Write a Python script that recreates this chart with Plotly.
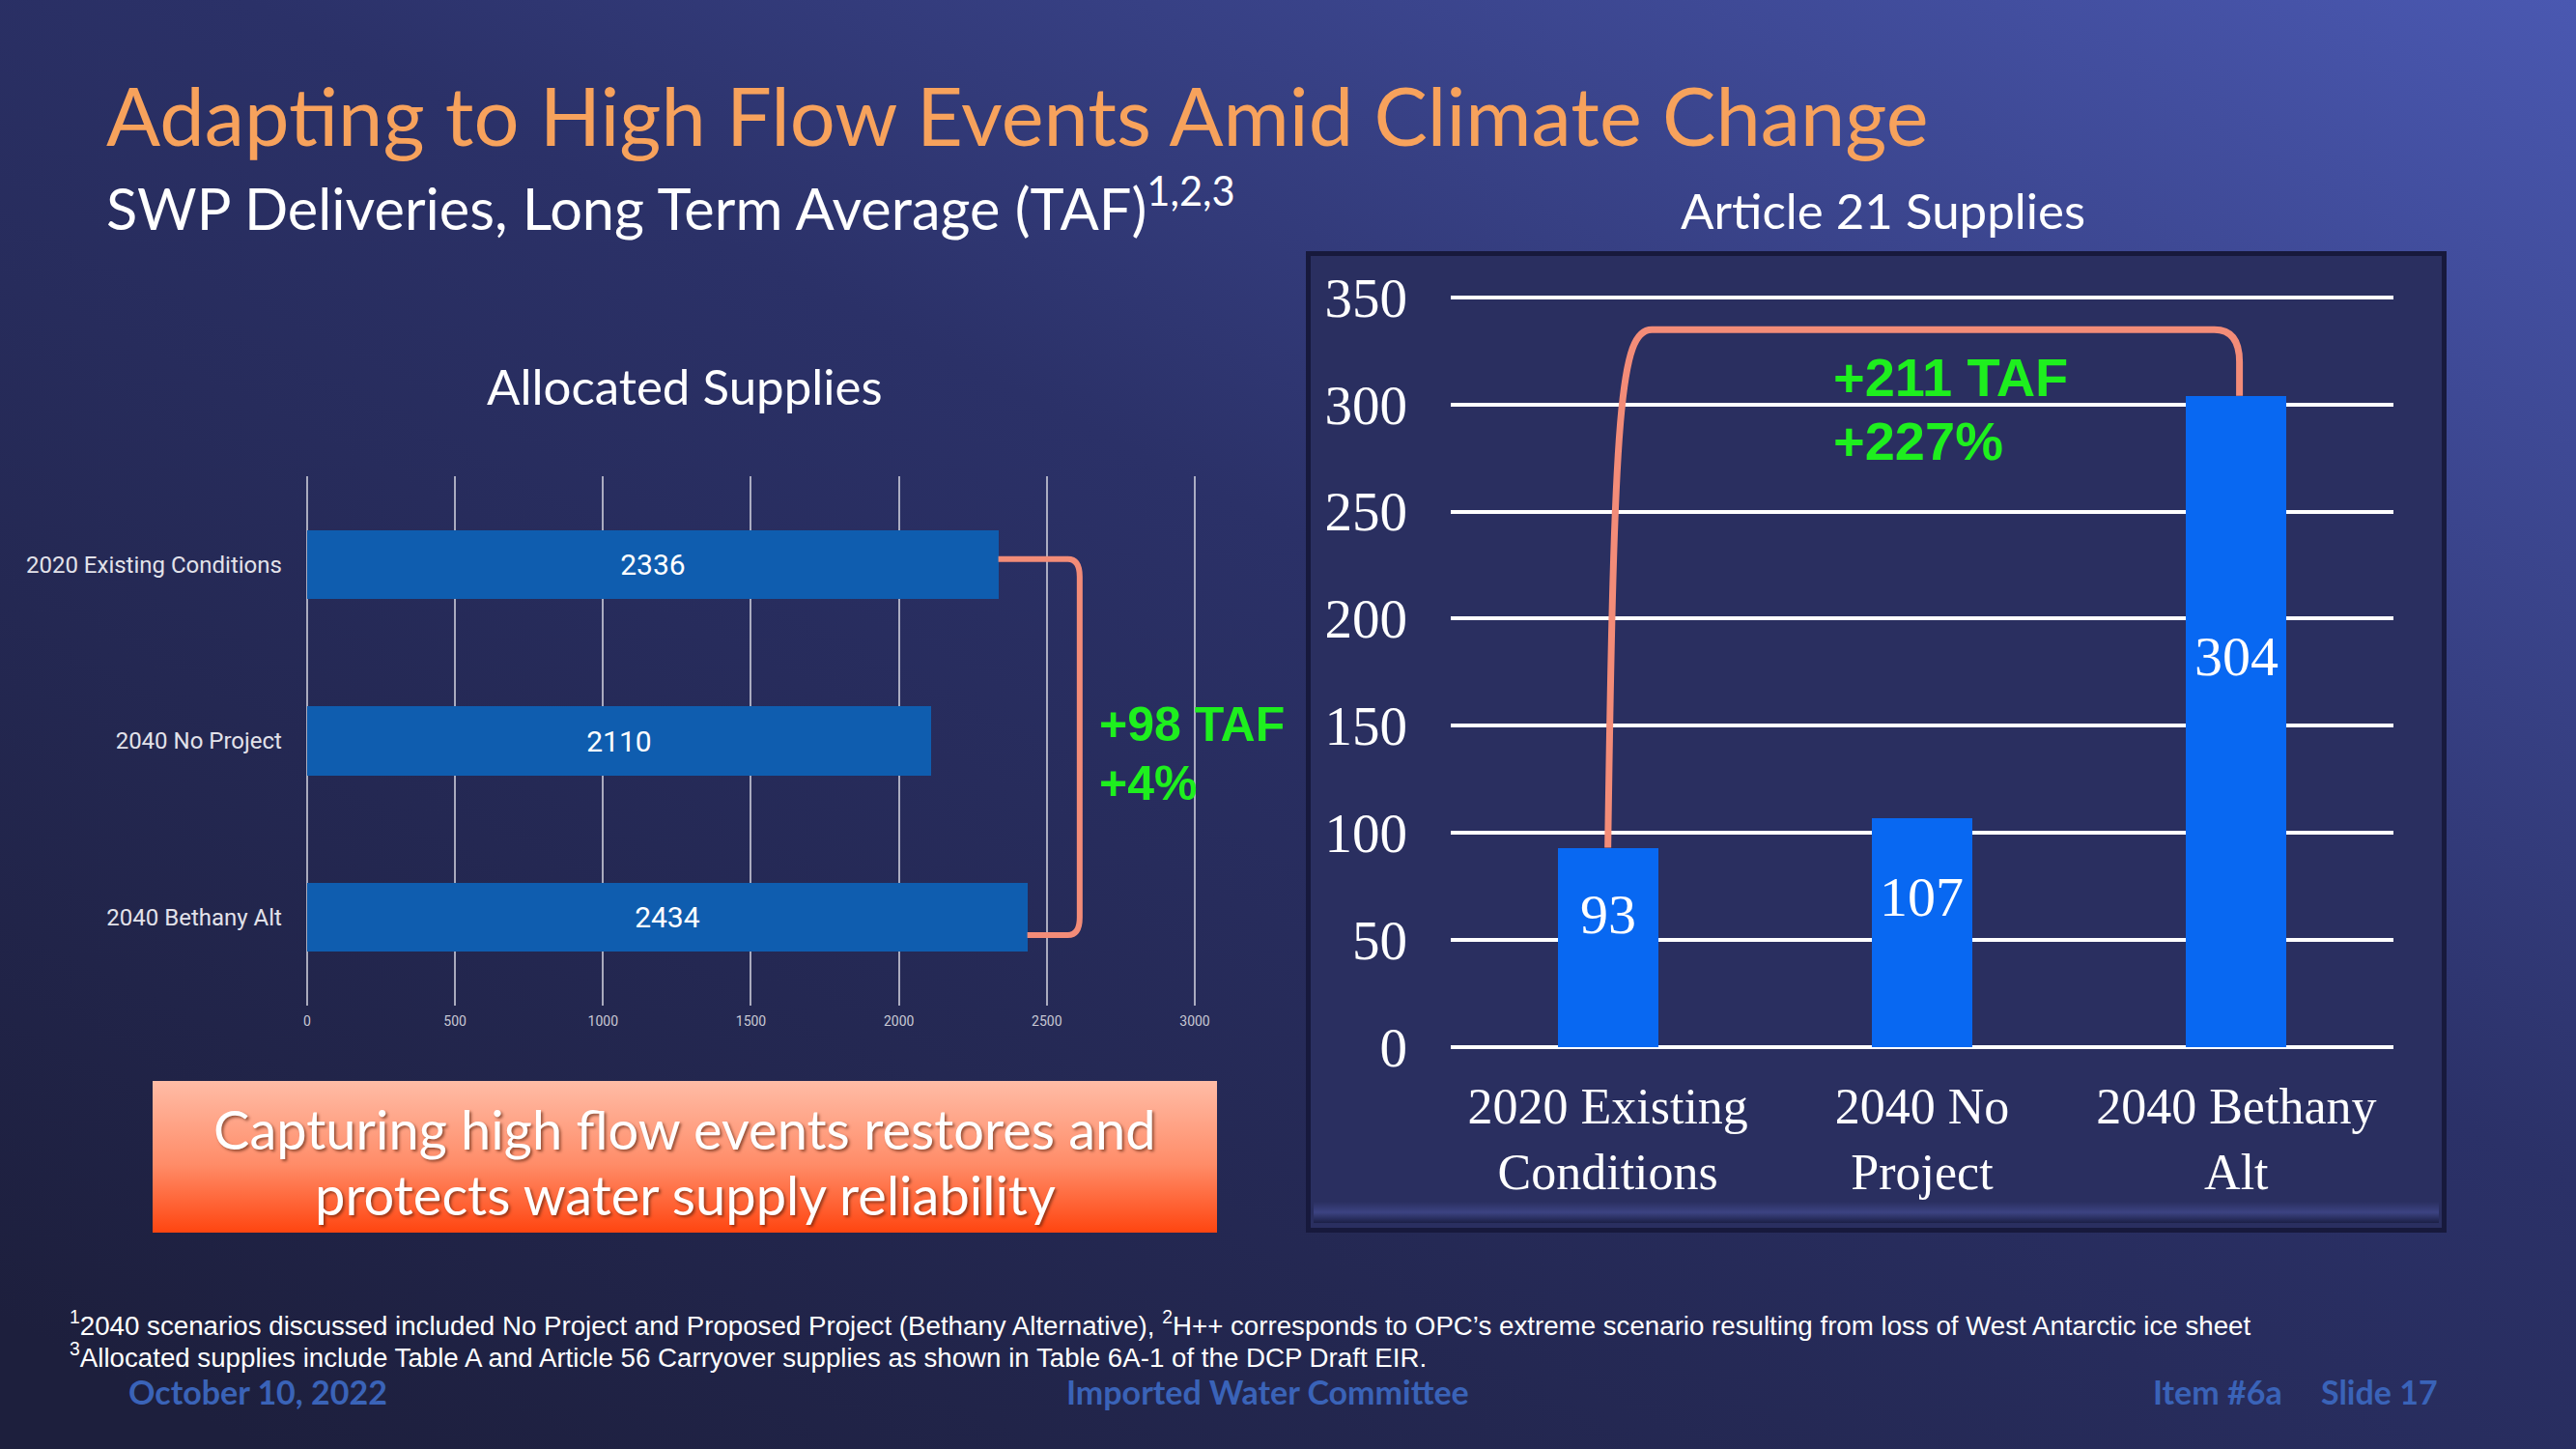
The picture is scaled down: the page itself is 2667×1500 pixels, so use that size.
import plotly.graph_objects as go
from urllib.parse import quote

# ---------------- data ----------------
alloc_categories = ["2020 Existing Conditions", "2040 No Project", "2040 Bethany Alt"]
alloc_values = [2336, 2110, 2434]
alloc_ticks = [0, 500, 1000, 1500, 2000, 2500, 3000]

a21_categories = ["2020 Existing<br>Conditions", "2040 No<br>Project", "2040 Bethany<br>Alt"]
a21_values = [93, 107, 304]
a21_ticks = [0, 50, 100, 150, 200, 250, 300, 350]

alloc_delta = ["+98 TAF", "+4%"]
a21_delta = ["+211 TAF", "+227%"]

W, H = 2667, 1500


def px(x):
    return x / W


def py(y):
    return 1 - y / H


def svg_uri(svg):
    return "data:image/svg+xml;charset=utf-8," + quote(svg)


bg_svg = (
    f"<svg xmlns='http://www.w3.org/2000/svg' width='{W}' height='{H}' viewBox='0 0 {W} {H}' preserveAspectRatio='none'>"
    "<defs><linearGradient id='g' x1='1' y1='0' x2='0.1' y2='1'>"
    "<stop offset='0' stop-color='#4A58B1'/>"
    "<stop offset='0.45' stop-color='#2B3168'/>"
    "<stop offset='1' stop-color='#1D1F3D'/>"
    "</linearGradient></defs>"
    f"<rect width='{W}' height='{H}' fill='url(#g)'/></svg>"
)

pw, ph = 1181, 1016
panel_svg = (
    f"<svg xmlns='http://www.w3.org/2000/svg' width='{pw}' height='{ph}' viewBox='0 0 {pw} {ph}' preserveAspectRatio='none'>"
    "<defs><linearGradient id='b' x1='0' y1='0' x2='0' y2='1'>"
    "<stop offset='0' stop-color='#2A2F60'/><stop offset='0.5' stop-color='#3C4382'/><stop offset='1' stop-color='#1C2046'/>"
    "</linearGradient></defs>"
    f"<rect x='0' y='0' width='{pw}' height='{ph}' fill='#17193C'/>"
    f"<rect x='5' y='5' width='{pw-10}' height='{ph-10}' fill='#2A2F60'/>"
    f"<rect x='8' y='{ph-32}' width='{pw-16}' height='22' fill='url(#b)'/>"
    "</svg>"
)

bw, bh = 1102, 157
box_svg = (
    f"<svg xmlns='http://www.w3.org/2000/svg' width='{bw}' height='{bh}' viewBox='0 0 {bw} {bh}' preserveAspectRatio='none'>"
    "<defs><linearGradient id='o' x1='0' y1='0' x2='0' y2='1'>"
    "<stop offset='0' stop-color='#FFBCA6'/><stop offset='0.55' stop-color='#FF8C68'/><stop offset='1' stop-color='#FF4510'/>"
    "</linearGradient></defs>"
    f"<rect width='{bw}' height='{bh}' fill='url(#o)'/></svg>"
)

fig = go.Figure()

# left chart: allocated supplies
fig.add_trace(go.Bar(
    x=alloc_values, y=list(range(len(alloc_categories))), orientation="h",
    marker=dict(color="#0F5DAF", line=dict(width=0)), width=0.39,
    text=[str(v) for v in alloc_values], textposition="inside", insidetextanchor="middle",
    textfont=dict(family="Roboto", size=30, color="white"),
    xaxis="x", yaxis="y", hoverinfo="skip", showlegend=False,
))

# right chart: article 21 supplies
fig.add_trace(go.Bar(
    x=list(range(len(a21_categories))), y=a21_values,
    marker=dict(color="#0868F2", line=dict(width=0)), width=0.32,
    xaxis="x2", yaxis="y2", hoverinfo="skip", showlegend=False,
))

serif = "Liberation Serif, DejaVu Serif, serif"
sans = "Lato, Roboto, sans-serif"

annotations = []
# value labels inside the article 21 bars
for i, v in enumerate(a21_values):
    annotations.append(dict(x=i, y=v * 0.57 + 9, xref="x2", yref="y2", text=str(v), showarrow=False,
                            font=dict(family=serif, size=58, color="white")))

# titles
annotations += [
    dict(x=px(108), y=py(119), xref="paper", yref="paper", xanchor="left", yanchor="middle", showarrow=False,
         text="Adapting to High Flow Events Amid Climate Change",
         font=dict(family=sans, size=83, color="#F7A25C")),
    dict(x=px(108), y=py(212), xref="paper", yref="paper", xanchor="left", yanchor="middle", showarrow=False,
         text="SWP Deliveries, Long Term Average (TAF)<sup>1,2,3</sup>",
         font=dict(family=sans, size=59.5, color="white")),
    dict(x=px(709), y=py(400), xref="paper", yref="paper", xanchor="center", yanchor="middle", showarrow=False,
         text="Allocated Supplies", font=dict(family=sans, size=51, color="white")),
    dict(x=px(1949), y=py(218), xref="paper", yref="paper", xanchor="center", yanchor="middle", showarrow=False,
         text="Article 21 Supplies", font=dict(family=sans, size=51, color="white")),
]

green = "#1EEF1E"
annotations += [
    dict(x=px(1136), y=py(750), xref="paper", yref="paper", xanchor="left", yanchor="middle", showarrow=False,
         text=f"<b>{alloc_delta[0]}</b>", font=dict(family="Liberation Sans, Arial", size=50, color=green)),
    dict(x=px(1136), y=py(811), xref="paper", yref="paper", xanchor="left", yanchor="middle", showarrow=False,
         text=f"<b>{alloc_delta[1]}</b>", font=dict(family="Liberation Sans, Arial", size=50, color=green)),
    dict(x=px(1896), y=py(391), xref="paper", yref="paper", xanchor="left", yanchor="middle", showarrow=False,
         text=f"<b>{a21_delta[0]}</b>", font=dict(family="Liberation Sans, Arial", size=56, color=green)),
    dict(x=px(1896), y=py(456), xref="paper", yref="paper", xanchor="left", yanchor="middle", showarrow=False,
         text=f"<b>{a21_delta[1]}</b>", font=dict(family="Liberation Sans, Arial", size=56, color=green)),
]

# call-out box text
annotations += [
    dict(x=px(709), y=py(1168), xref="paper", yref="paper", xanchor="center", yanchor="middle", showarrow=False,
         text="Capturing high flow events restores and",
         font=dict(family=sans, size=56, color="white", shadow="2px 2px 3px rgba(80,30,10,0.6)")),
    dict(x=px(709), y=py(1236), xref="paper", yref="paper", xanchor="center", yanchor="middle", showarrow=False,
         text="protects water supply reliability",
         font=dict(family=sans, size=56, color="white", shadow="2px 2px 3px rgba(80,30,10,0.6)")),
]

# footnotes
annotations += [
    dict(x=px(70), y=py(1370), xref="paper", yref="paper", xanchor="left", yanchor="middle", showarrow=False,
         text="<sup>1</sup>2040 scenarios discussed included No Project and Proposed Project (Bethany Alternative), "
              "<sup>2</sup>H++ corresponds to OPC\u2019s extreme scenario resulting from loss of West Antarctic ice sheet",
         font=dict(family="Liberation Sans, Arial", size=27.7, color="white")),
    dict(x=px(70), y=py(1403), xref="paper", yref="paper", xanchor="left", yanchor="middle", showarrow=False,
         text="<sup>3</sup>Allocated supplies include Table A and Article 56 Carryover supplies as shown in Table 6A-1 of the DCP Draft EIR.",
         font=dict(family="Liberation Sans, Arial", size=27.7, color="white")),
]

footer_color = "#3A63B8"
annotations += [
    dict(x=px(131), y=py(1440), xref="paper", yref="paper", xanchor="left", yanchor="middle", showarrow=False,
         text="<b>October 10, 2022</b>", font=dict(family=sans, size=34, color=footer_color)),
    dict(x=px(1312), y=py(1440), xref="paper", yref="paper", xanchor="center", yanchor="middle", showarrow=False,
         text="<b>Imported Water Committee</b>", font=dict(family=sans, size=34, color=footer_color)),
    dict(x=px(2365), y=py(1440), xref="paper", yref="paper", xanchor="right", yanchor="middle", showarrow=False,
         text="<b>Item #6a</b>", font=dict(family=sans, size=34, color=footer_color)),
    dict(x=px(2526), y=py(1440), xref="paper", yref="paper", xanchor="right", yanchor="middle", showarrow=False,
         text="<b>Slide 17</b>", font=dict(family=sans, size=34, color=footer_color)),
]

# brackets (derived from data values)
bx = max(alloc_values) + 177
y_top, y_bot = -0.03, 2.1
left_path = (f"M {alloc_values[0]},{y_top} L {bx-40},{y_top} Q {bx},{y_top} {bx},{y_top+0.1} "
             f"L {bx},{y_bot-0.1} Q {bx},{y_bot} {bx-40},{y_bot} L {alloc_values[2]},{y_bot}")
top = 335
right_path = (f"M 0,{a21_values[0]} C 0.02,300 0.04,{top} 0.14,{top} L 1.93,{top} "
              f"Q 2.01,{top} 2.01,{top-15} L 2.01,{a21_values[2]}")

shapes = [
    dict(type="path", path=left_path, xref="x", yref="y", line=dict(color="#F38C78", width=6), layer="above"),
    dict(type="path", path=right_path, xref="x2", yref="y2", line=dict(color="#F38C78", width=7), layer="above"),
]

images = [
    dict(source=svg_uri(bg_svg), xref="paper", yref="paper", x=0, y=1, sizex=1, sizey=1,
         sizing="stretch", xanchor="left", yanchor="top", layer="below"),
    dict(source=svg_uri(panel_svg), xref="paper", yref="paper", x=px(1352), y=py(260),
         sizex=pw / W, sizey=ph / H, sizing="stretch", xanchor="left", yanchor="top", layer="below"),
    dict(source=svg_uri(box_svg), xref="paper", yref="paper", x=px(158), y=py(1119),
         sizex=bw / W, sizey=bh / H, sizing="stretch", xanchor="left", yanchor="top", layer="below"),
]

# left axis: extend range a little so gridlines at 0 and 3000 are drawn
lx0, lx1 = 318, 1237
pad = 10
unit = (lx1 - lx0) / 3000

fig.update_layout(
    width=W, height=H, margin=dict(l=0, r=0, t=0, b=0, pad=0, autoexpand=False),
    paper_bgcolor="#1D1F3D", plot_bgcolor="rgba(0,0,0,0)",
    showlegend=False, bargap=0,
    annotations=annotations, shapes=shapes, images=images,
    xaxis=dict(domain=[px(lx0 - pad * unit), px(lx1 + pad * unit)], range=[-pad, 3000 + pad], tickvals=alloc_ticks,
               showgrid=True, gridcolor="rgba(215,215,225,0.75)", gridwidth=2, zeroline=False,
               showline=False, ticks="", tickfont=dict(family="Roboto", size=14, color="#C8C8D4"),
               ticklabelstandoff=6, anchor="y", fixedrange=True, automargin=False),
    yaxis=dict(domain=[py(1041), py(493)], range=[2.5, -0.5], tickvals=list(range(len(alloc_categories))),
               ticktext=alloc_categories, showgrid=False, zeroline=False, showline=False, ticks="",
               tickfont=dict(family="Roboto", size=24, color="#E2E2EA"), ticklabelstandoff=22,
               anchor="x", fixedrange=True, automargin=False),
    xaxis2=dict(domain=[px(1502), px(2478)], range=[-0.5, 2.5], tickvals=list(range(len(a21_categories))),
                ticktext=a21_categories, showgrid=False, zeroline=False, showline=False, ticks="",
                tickfont=dict(family=serif, size=52, color="white"), ticklabelstandoff=22,
                anchor="y2", fixedrange=True, automargin=False),
    yaxis2=dict(domain=[py(1088), py(303.5)], range=[-2, 352], tickvals=a21_ticks,
                showgrid=True, gridcolor="white", gridwidth=4, zeroline=False, showline=False, ticks="",
                tickfont=dict(family=serif, size=57, color="white"), ticklabelstandoff=44,
                anchor="x2", fixedrange=True, automargin=False),
)

fig.write_html("out.html", config={"displayModeBar": False},
               post_script="document.body.style.margin='0';document.body.style.overflow='hidden';")
